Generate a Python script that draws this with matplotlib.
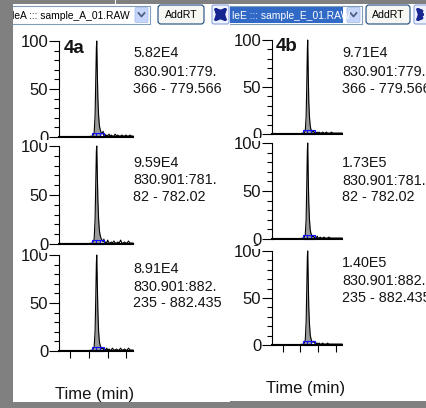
import numpy as np
import matplotlib
matplotlib.use("Agg")
import matplotlib.pyplot as plt
from matplotlib.patches import Rectangle, FancyBboxPatch
from matplotlib.ticker import MultipleLocator

plt.rcParams['font.family'] = ['Liberation Sans', 'DejaVu Sans']

# ---- data ----
times = [9.40, 11.00, 11.20, 11.28, 11.33, 11.37, 11.40, 11.42, 11.45, 11.48,
         11.52, 11.56, 11.60, 11.65, 11.70, 11.76, 11.80, 11.86, 11.90, 11.96,
         12.00, 12.08, 12.12, 12.20, 12.26, 12.34, 12.40, 12.48, 12.54, 12.62,
         12.70, 12.76, 12.84, 12.90, 12.98, 13.05, 13.12, 13.20, 13.28, 13.36]

int_4a_1 = [0.5, 0.5, 1, 4, 22, 62, 93, 100, 68, 40, 22, 12, 8, 5, 3, 6, 1, 3, 1, 2,
            1, 3, 1, 2, 1, 1, 3, 1, 2, 1, 1, 2, 1, 1, 2, 1, 1, 2, 1, 1]
int_4a_2 = [0.5, 0.5, 1, 5, 25, 65, 95, 100, 72, 45, 25, 14, 9, 6, 4, 2, 5, 1, 2, 1,
            4, 1, 1, 2, 1, 3, 1, 1, 2, 1, 4, 1, 1, 2, 1, 1, 3, 1, 1, 1]
int_4a_3 = [0.5, 0.5, 1, 4, 20, 58, 92, 100, 70, 42, 20, 10, 6, 4, 2, 3, 1, 2, 1, 3,
            1, 2, 1, 1, 3, 1, 1, 2, 1, 1, 3, 1, 1, 2, 1, 1, 3, 1, 1, 1]
int_4b_1 = [0.5, 0.5, 1, 3, 18, 55, 90, 100, 65, 35, 18, 9, 5, 3, 2, 3, 1, 2, 1, 2,
            1, 2, 1, 1, 2, 1, 1, 2, 1, 1, 1, 2, 1, 1, 1, 1, 1, 1, 1, 1]
int_4b_2 = [0.5, 0.5, 1, 4, 20, 60, 92, 100, 66, 38, 20, 10, 6, 4, 2, 3, 1, 2, 1, 3,
            1, 1, 2, 1, 1, 2, 1, 1, 1, 2, 1, 1, 1, 1, 1, 1, 1, 1, 1, 1]
int_4b_3 = [0.5, 0.5, 1, 5, 24, 63, 94, 100, 70, 40, 22, 11, 7, 4, 3, 4, 2, 3, 1, 2,
            1, 2, 1, 1, 2, 1, 1, 1, 2, 1, 1, 1, 1, 1, 1, 1, 1, 1, 1, 1]

peak_start, peak_end = 11.24, 11.64
marker_times = [11.27, 11.48, 11.70]
x_ticks = [10, 11, 12, 13]

heights_a = ["5.82E4", "9.59E4", "8.91E4"]
heights_b = ["9.71E4", "1.73E5", "1.40E5"]
mz_lines = [("830.901:779.", "366 - 779.566"),
            ("830.901:781.", "82 - 782.02"),
            ("830.901:882.", "235 - 882.435")]
panel_tags = ["4a", "4b"]
file_labels = ["leA ::: sample_A_01.RAW", "leE ::: sample_E_01.RAW"]

W, H = 427, 408
fig = plt.figure(figsize=(W / 100, H / 100), dpi=100, facecolor='#808080')


def frac(x0, y0, w, h):
    return [x0 / W, 1 - (y0 + h) / H, w / W, h / H]


def pane(x0, y0, x1, y1):
    ax = fig.add_axes(frac(x0, y0, x1 - x0, y1 - y0))
    ax.set_xlim(x0, x1)
    ax.set_ylim(y1, y0)
    ax.set_facecolor('white')
    for s in ax.spines.values():
        s.set_visible(False)
    ax.set_xticks([])
    ax.set_yticks([])
    return ax


left = pane(13, 4, 230, 402)
right = pane(230, 4, 427, 401)
left.plot([115, 115], [0, 4], color='white', lw=0.8, clip_on=False)

TXT = '#141414'


def combo(ax, x0, x1, text, highlight):
    ax.plot([x0, x1, x1, x0], [6, 6, 24, 24], color='#7f9db9', lw=0.8)
    if highlight:
        ax.add_patch(Rectangle((x0, 7), x1 - x0 - 19, 16, color='#3169c6', lw=0))
    ax.text(x0 + 2, 15.5, text, fontsize=7.4, va='center', ha='left',
            color='white' if highlight else 'black', clip_on=True)
    bx = x1 - 15
    ax.add_patch(FancyBboxPatch((bx, 7.5), 13, 15, boxstyle='round,pad=0,rounding_size=1.5',
                                fc='#c6d6fb', ec='#b2c6f2', lw=0.7))
    ax.plot([bx + 3.5, bx + 6.5, bx + 9.5], [13, 16.5, 13], color='#4d6185', lw=1.3)


def button(ax, x0, x1):
    ax.add_patch(FancyBboxPatch((x0, 5), x1 - x0, 19, boxstyle='round,pad=0,rounding_size=3',
                                fc='#f6f6f2', ec='#1c4a7e', lw=0.8))
    ax.text((x0 + x1) / 2, 15, "AddRT", fontsize=7.6, ha='center', va='center', color='black')


def icon(ax, x0):
    ax.add_patch(FancyBboxPatch((x0, 5), 17, 19, boxstyle='round,pad=0,rounding_size=2',
                                fc='#eef2fc', ec='#8ca3dc', lw=0.8))
    cx, cy = x0 + 8.5, 14.5
    for dx, dy in [(-1, -1), (1, -1), (-1, 1), (1, 1)]:
        ax.annotate('', xy=(cx + dx * 7, cy + dy * 7.5), xytext=(cx, cy),
                    arrowprops=dict(arrowstyle='-|>', color='#16258f', lw=2.2,
                                    mutation_scale=7, shrinkA=0, shrinkB=0))


combo(left, 10, 150, file_labels[0], False)
button(left, 158, 204)
icon(left, 212)
combo(right, 230, 362, file_labels[1], True)
button(right, 366, 410)
icon(right, 414)

# annotation texts
text_rows_a = [(53, 72, 89), (163, 180, 197), (269, 287, 303)]
text_rows_b = [(53, 72, 89), (163, 181, 197), (263, 281, 298)]
for i in range(3):
    r = text_rows_a[i]
    left.text(133, r[0], heights_a[i], fontsize=10.4, color=TXT, va='center', clip_on=True)
    left.text(133, r[1], mz_lines[i][0], fontsize=10.4, color=TXT, va='center', clip_on=True)
    left.text(133, r[2], mz_lines[i][1], fontsize=10.4, color=TXT, va='center', clip_on=True)
    r = text_rows_b[i]
    right.text(342, r[0], heights_b[i], fontsize=10.4, color=TXT, va='center', clip_on=True)
    right.text(342, r[1], mz_lines[i][0], fontsize=10.4, color=TXT, va='center', clip_on=True)
    right.text(342, r[2], mz_lines[i][1], fontsize=10.4, color=TXT, va='center', clip_on=True)

left.text(95, 394, "Time (min)", fontsize=12, ha='center', va='center', color=TXT)
right.text(306, 388, "Time (min)", fontsize=12, ha='center', va='center', color=TXT)

# chromatogram panels
boxes_a = [(59, 41, 74, 96), (59, 146, 74, 98), (59, 255, 74, 96)]
boxes_b = [(272, 40, 70, 94), (272, 143, 70, 96), (272, 251, 70, 94)]
series_a = [int_4a_1, int_4a_2, int_4a_3]
series_b = [int_4b_1, int_4b_2, int_4b_3]

t = np.array(times)
for col, (boxes, series) in enumerate([(boxes_a, series_a), (boxes_b, series_b)]):
    for row in range(3):
        ax = fig.add_axes(frac(*boxes[row]))
        ax.patch.set_alpha(0)
        y = np.array(series[row], dtype=float)
        sel = (t >= peak_start) & (t <= peak_end)
        ax.fill_between(t, 0, y, where=sel, color='#9a9a9a', lw=0, interpolate=True)
        ax.plot(t, y, color='black', lw=0.8, clip_on=False)
        ax.plot(marker_times, [2.2] * len(marker_times), ls='none', marker='s', ms=3.2,
                mfc='none', mec='#1010ff', mew=0.8, clip_on=False)
        ax.set_xlim(9.4, 13.36)
        ax.set_ylim(0, 100)
        for s in ('top', 'right'):
            ax.spines[s].set_visible(False)
        ax.spines['left'].set_linewidth(0.8)
        ax.spines['bottom'].set_linewidth(1.5)
        ax.set_yticks([0, 50, 100])
        ax.yaxis.set_minor_locator(MultipleLocator(10))
        ax.tick_params(axis='y', which='major', length=7.2, width=0.8, pad=0.5,
                       labelsize=12, labelcolor=TXT)
        ax.tick_params(axis='y', which='minor', length=3.6, width=0.8)
        if row == 2:
            ax.set_xticks(x_ticks)
            ax.tick_params(axis='x', length=5, width=0.8, labelbottom=False)
        else:
            ax.set_xticks([])
        if row == 0:
            ax.text(0.07 if col == 0 else 0.06, 0.92 if col == 0 else 0.93, panel_tags[col],
                    transform=ax.transAxes, fontsize=13.5, fontweight='bold',
                    va='center', ha='left', color=TXT)

# upper panels hide the top of the lower "100" labels
for x0, yc in [(40, 142), (40, 252), (252, 140), (252, 248)]:
    fig.add_artist(Rectangle((x0 / W, 1 - (yc + 1) / H), 9 / W, 3 / H,
                             transform=fig.transFigure, color='white', lw=0, zorder=10))

fig.savefig("out.png", dpi=100, facecolor=fig.get_facecolor())
